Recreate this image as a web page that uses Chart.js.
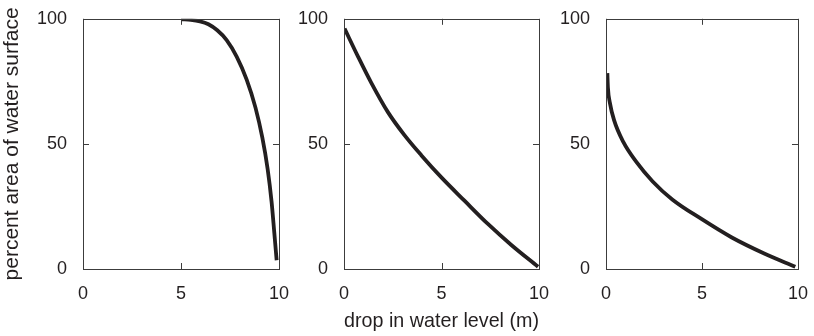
<!DOCTYPE html>
<html>
<head>
<meta charset="utf-8">
<script src="https://cdn.jsdelivr.net/npm/chart.js@4"></script>
<style>
    html, body { margin: 0; padding: 0; background: #ffffff; }
    #wrap { position: relative; width: 814px; height: 336px; overflow: hidden; }
    canvas { position: absolute; top: 0; }
</style>
</head>
<body>
<div id="wrap">
    <canvas id="panel1" width="300" height="336" style="left:0px"></canvas>
    <canvas id="panel2" width="290" height="336" style="left:270px"></canvas>
    <canvas id="panel3" width="284" height="336" style="left:530px"></canvas>
</div>
<script>
// values: drop in water level (m) vs percent area
const xTicks = [0, 5, 10];
const yTicks = [0, 50, 100];

const drop1 = [5.03, 5.5, 5.97, 6.4, 6.85, 7.33, 7.84, 8.35, 8.8, 9.15, 9.42, 9.62, 9.76, 9.88];
const area1 = [99.8, 99.6, 99.0, 97.8, 95.4, 91.5, 84.9, 75.7, 64.5, 52.5, 40.0, 27.0, 14.5, 3.5];

const drop2 = [0.03, 0.72, 1.40, 2.26, 3.11, 3.96, 5.03, 6.19, 7.38, 8.58, 9.95];
const area2 = [96.1, 84.9, 74.4, 62.6, 53.4, 45.5, 36.3, 27.2, 18.0, 9.6, 0.9];

const drop3 = [0.07, 0.1, 0.2, 0.42, 0.9, 1.57, 2.43, 3.45, 4.97, 6.53, 8.24, 9.86];
const area3 = [78.3, 72.5, 66.5, 59.5, 50.8, 42.9, 35.0, 27.8, 20.0, 12.7, 6.2, 0.9];

const yTitle = "percent area of water surface";
const xTitle = "drop in water level (m)";

const inkColor = "#231f20";
const frameColor = "#3c3c3c";
const fontFamily = "'Liberation Sans', Arial, Helvetica, sans-serif";

//-----------------------------------------------------------------------------
// box round the plot area, with short ticks pointing inward
//-----------------------------------------------------------------------------
const frameBox = {
    id: "frameBox",
    afterDatasetsDraw(chart, args, opts) {
        const { ctx, chartArea } = chart;
        const { left, right, top, bottom } = chartArea;
        const len = 6;
        ctx.save();
        ctx.strokeStyle = frameColor;
        ctx.lineWidth = 1;
        ctx.beginPath();
        xTicks.forEach(v => {
            const px = Math.round(chart.scales.x.getPixelForValue(v)) + 0.5;
            ctx.moveTo(px, bottom); ctx.lineTo(px, bottom - len);
            ctx.moveTo(px, top);    ctx.lineTo(px, top + len);
        });
        yTicks.forEach(v => {
            const py = Math.round(chart.scales.y.getPixelForValue(v)) + 0.5;
            if (opts.leftTicks) { ctx.moveTo(left, py); ctx.lineTo(left + len, py); }
            ctx.moveTo(right, py); ctx.lineTo(right - len, py);
        });
        ctx.stroke();
        ctx.strokeRect(Math.round(left) + 0.5, Math.round(top) + 0.5,
                       Math.round(right - left), Math.round(bottom - top));
        ctx.restore();
    }
};
//-----------------------------------------------------------------------------
function drawPanel(id, drops, areas, axisWidth, padRight, opts) {
    const points = drops.map((d, i) => ({ x: d, y: areas[i] }));
    return new Chart(document.getElementById(id), {
        type: "scatter",
        data: {
            datasets: [{
                data: points,
                showLine: true,
                borderColor: inkColor,
                borderWidth: 3.8,
                borderCapStyle: "butt",
                cubicInterpolationMode: "monotone",
                pointRadius: 0,
                pointHoverRadius: 0
            }]
        },
        options: {
            responsive: false,
            animation: false,
            events: [],
            layout: { padding: { left: 0, right: padRight, top: 15, bottom: 0 } },
            plugins: {
                legend: { display: false },
                tooltip: { enabled: false },
                frameBox: { leftTicks: opts.leftTicks }
            },
            scales: {
                x: {
                    type: "linear",
                    min: 0,
                    max: 10,
                    afterBuildTicks: s => { s.ticks = xTicks.map(v => ({ value: v })); },
                    afterFit: s => { s.height = 67; },
                    grid: { display: false },
                    border: { display: false },
                    ticks: {
                        color: inkColor,
                        padding: 6,
                        maxRotation: 0,
                        font: { family: fontFamily, size: 18 }
                    },
                    title: {
                        display: !!opts.xTitle,
                        text: opts.xTitle || "",
                        color: inkColor,
                        padding: { top: 0, bottom: 2 },
                        font: { family: fontFamily, size: 21 }
                    }
                },
                y: {
                    type: "linear",
                    min: 0,
                    max: 100,
                    afterBuildTicks: s => { s.ticks = yTicks.map(v => ({ value: v })); },
                    afterFit: s => { s.width = axisWidth; },
                    grid: { display: false },
                    border: { display: false },
                    ticks: {
                        color: inkColor,
                        padding: 8,
                        font: { family: fontFamily, size: 18 }
                    },
                    title: {
                        display: !!opts.yTitle,
                        text: opts.yTitle || "",
                        color: inkColor,
                        padding: { top: 0, bottom: 0 },
                        font: { family: fontFamily, size: 21 }
                    }
                }
            }
        },
        plugins: [frameBox]
    });
}
//-----------------------------------------------------------------------------
drawPanel("panel1", drop1, area1, 83, 21, { leftTicks: true, yTitle: yTitle });
drawPanel("panel2", drop2, area2, 74, 21, { leftTicks: true, xTitle: xTitle });
drawPanel("panel3", drop3, area3, 76, 13, { leftTicks: false });
</script>
</body>
</html>
